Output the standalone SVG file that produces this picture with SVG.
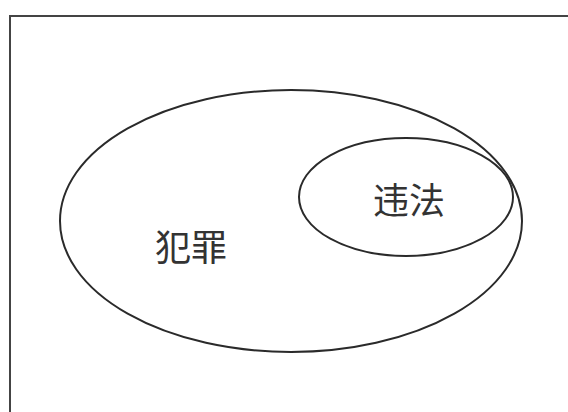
<svg xmlns="http://www.w3.org/2000/svg" width="568" height="412" viewBox="0 0 568 412">
<style>
.outline{fill:none;stroke:#2a2a2a;stroke-width:2}
.label{font-family:"Noto Sans CJK SC","Noto Sans",sans-serif;font-size:36px;fill:#333;text-anchor:middle;dominant-baseline:central}
</style>
<rect x="0" y="0" width="568" height="412" fill="#fff"/>
<rect x="10" y="16" width="570" height="410" fill="none" stroke="#444" stroke-width="2"/>
<g id="crime">
<ellipse class="outline" cx="291" cy="221" rx="231" ry="131"/>
<text class="label" x="191" y="245">犯罪</text>
</g>
<g id="illegal">
<ellipse class="outline" cx="406" cy="197" rx="107" ry="59"/>
<text class="label" x="409" y="198">违法</text>
</g>
<g id="connectors"></g>
</svg>
